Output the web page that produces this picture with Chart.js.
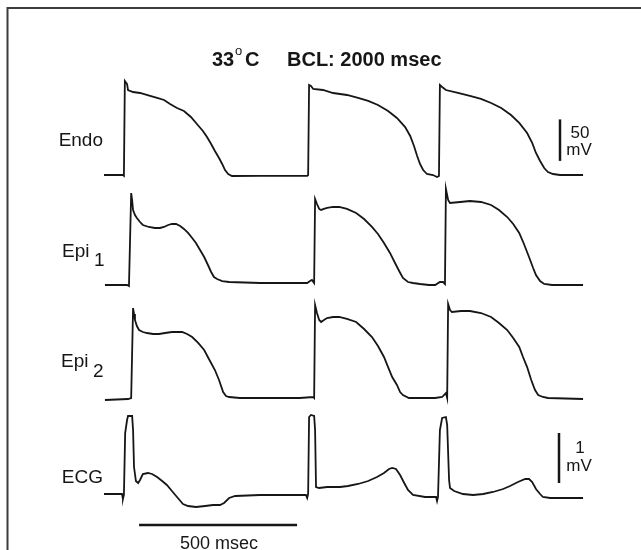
<!DOCTYPE html>
<html>
<head>
<meta charset="utf-8">
<script src="https://cdn.jsdelivr.net/npm/chart.js@4/dist/chart.umd.min.js"></script>
<style>
  html, body { margin: 0; padding: 0; background: #fff; }
  canvas { display: block; }
</style>
</head>
<body>
<canvas id="c" width="641" height="550"></canvas>
<script>
// traces as [time ms, value] pairs; AP traces in mV, ECG in mV
const endo = [[0,-85],[60,-85],[63,-86],[66,28.3],[73,24.6],[76,17.4],[92,15],[114,13.8],[146,10.2],[168,7.8],
  [190,5.4],[209,0.5],[231,-4.3],[253,-7.9],[275,-15.1],[294,-23.6],[313,-32],[326,-39.2],[339,-47.7],[351,-56.1],
  [364,-64.5],[374,-71.7],[383,-79],[393,-83.8],[405,-86.2],[494,-86],[589,-86],[643,-86],[646,-85],[649,23.4],
  [655,22.2],[662,18.6],[693,17.4],[725,13.8],[769,11.4],[804,7.8],[836,4.2],[867,-0.7],[899,-7.9],[927,-16.3],
  [953,-27.2],[969,-38],[981,-50.1],[991,-62.1],[1000,-71.7],[1010,-79],[1022,-83.8],[1041,-85],[1054,-87.4],[1060,-86.2],
  [1063,23.4],[1070,21],[1082,17.4],[1120,13.8],[1158,10.2],[1193,6.6],[1225,1.7],[1257,-4.3],[1288,-12.7],[1314,-22.3],
  [1339,-34.4],[1355,-46.4],[1367,-58.5],[1380,-68.1],[1393,-76.6],[1405,-81.4],[1421,-83.8],[1443,-85],[1516,-85]];

const epi1 = [[3,-85],[73,-85],[79,-86.2],[86,25.8],[89,17.4],[92,5.4],[98,-0.7],[104,-4.3],[114,-9.1],[123,-12.7],
  [142,-15.1],[161,-16.3],[177,-16.3],[190,-15.1],[203,-12.7],[215,-11.5],[228,-11.5],[241,-13.9],[253,-17.5],[266,-22.3],
  [279,-28.4],[291,-34.4],[304,-42.8],[317,-51.3],[329,-60.9],[339,-69.3],[348,-75.4],[358,-77.8],[374,-80.2],[396,-81.4],
  [494,-82.6],[589,-82.6],[643,-82.6],[652,-80.2],[658,-79],[665,-82.6],[668,18.6],[674,12.6],[681,6.6],[687,5.4],
  [696,6.6],[706,7.8],[725,9],[744,9],[769,6.6],[798,1.7],[823,-5.5],[848,-15.1],[867,-23.6],[886,-34.4],
  [905,-46.4],[921,-58.5],[934,-68.1],[946,-76.6],[962,-81.4],[978,-82.6],[1000,-83.8],[1029,-85],[1048,-85],[1063,-81.4],
  [1073,-81.4],[1079,-83.8],[1082,30.7],[1089,17.4],[1095,13.8],[1127,15],[1158,16.2],[1193,15],[1225,11.4],[1250,5.4],
  [1276,-3.1],[1295,-11.5],[1314,-22.3],[1329,-35.6],[1345,-51.3],[1358,-64.5],[1367,-73],[1380,-80.2],[1393,-83.8],[1418,-85],
  [1516,-85]];

const epi2 = [[3,-87.4],[76,-86.2],[86,-85],[92,23.4],[95,16.2],[98,9],[104,1.7],[111,-3.1],[123,-5.5],[136,-6.7],
  [155,-7.9],[174,-7.9],[193,-6.7],[215,-5.5],[231,-5.5],[247,-5.5],[263,-7.9],[279,-11.5],[298,-18.7],[317,-27.2],
  [332,-38],[351,-51.3],[364,-63.3],[377,-77.8],[386,-82.6],[396,-83.8],[430,-85],[620,-85],[662,-83.8],[665,-85],
  [668,27],[674,17.4],[681,9],[687,6.6],[696,9],[706,11.4],[725,12.6],[744,12.6],[769,10.2],[798,6.6],
  [823,-1.9],[848,-11.5],[867,-22.3],[886,-35.6],[899,-47.7],[912,-59.8],[927,-69.3],[937,-77.8],[946,-81.4],[965,-85],
  [1048,-85],[1070,-83.8],[1082,-79],[1086,-85],[1089,28.3],[1095,21],[1101,18.6],[1130,19.8],[1158,19.8],[1193,17.4],
  [1225,12.6],[1250,5.4],[1276,-3.1],[1295,-12.7],[1314,-23.6],[1326,-35.6],[1339,-47.7],[1352,-63.3],[1364,-75.4],[1374,-81.4],
  [1389,-83.8],[1405,-85],[1516,-86.2]];

const ecg = [[0,0],[57,0],[60,-0.1],[63,-0.02],[67,1.22],[73,1.48],[76,1.56],[89,1.56],[92,1.28],[95,0.54],
  [101,0.26],[108,0.22],[114,0.28],[123,0.4],[139,0.42],[152,0.4],[168,0.34],[184,0.26],[199,0.18],[215,0.06],
  [231,-0.06],[250,-0.2],[266,-0.24],[291,-0.26],[320,-0.24],[345,-0.22],[367,-0.22],[380,-0.18],[396,-0.08],[415,-0.04],
  [494,-0.02],[639,-0.02],[643,-0.08],[646,0],[649,1.54],[655,1.58],[665,1.56],[668,1.28],[671,0.14],[681,0.12],
  [706,0.14],[747,0.14],[772,0.16],[804,0.2],[836,0.26],[864,0.34],[886,0.42],[902,0.5],[912,0.52],[924,0.5],
  [937,0.38],[950,0.22],[962,0.08],[978,-0.02],[1016,-0.06],[1051,-0.06],[1054,-0.14],[1057,-0.06],[1063,1.28],[1070,1.52],
  [1082,1.54],[1086,1.38],[1092,0.28],[1095,0.12],[1108,0.06],[1136,0],[1168,-0.02],[1200,0],[1231,0.04],[1263,0.1],
  [1285,0.16],[1310,0.24],[1333,0.3],[1345,0.3],[1355,0.24],[1367,0.1],[1380,0],[1389,-0.06],[1412,-0.08],[1516,-0.08]];

const traceLabels = ['Endo', 'Epi', 'Epi', 'ECG'];
const subscripts = ['', '1', '2', ''];
const timeBar = 500;   // msec
const apBar = 50;      // mV
const ecgBar = 1;      // mV

const H = 550;
// place each trace: baseline pixel, baseline value, pixels per unit
function band(basePx, baseVal, pxPerUnit) {
  const max = baseVal + basePx / pxPerUnit;
  return { min: max - H / pxPerUnit, max: max };
}
const toPts = arr => arr.map(p => ({ x: p[0], y: p[1] }));

const ink = '#161616';
const font = '"Liberation Sans", Arial, Helvetica, sans-serif';

const overlay = {
  id: 'overlay',
  beforeDraw(chart) {
    const ctx = chart.ctx;
    ctx.save();
    ctx.fillStyle = '#fff';
    ctx.fillRect(0, 0, chart.width, chart.height);
    ctx.restore();
  },
  afterDraw(chart) {
    const { ctx, scales } = chart;
    ctx.save();
    // frame
    ctx.strokeStyle = '#3c3c3c';
    ctx.lineWidth = 2;
    ctx.beginPath();
    ctx.moveTo(7.5, 550); ctx.lineTo(7.5, 8); ctx.lineTo(641, 8);
    ctx.stroke();

    ctx.fillStyle = ink;
    ctx.textBaseline = 'alphabetic';
    // title
    ctx.font = 'bold 20px ' + font;
    ctx.fillText('33', 212, 66);
    ctx.fillText('C', 245, 66);
    ctx.fillText('BCL: 2000 msec', 287, 66);
    ctx.font = '13px ' + font;
    ctx.fillText('o', 235, 55);

    // trace labels
    ctx.font = '19px ' + font;
    ctx.textAlign = 'right';
    ctx.fillText(traceLabels[0], 103, 146);
    ctx.fillText(traceLabels[3], 103, 483);
    ctx.textAlign = 'left';
    ctx.fillText(traceLabels[1], 62, 257);
    ctx.fillText(subscripts[1], 94, 266);
    ctx.fillText(traceLabels[2], 61, 367);
    ctx.fillText(subscripts[2], 93, 377);

    // scale bars
    ctx.strokeStyle = ink;
    ctx.lineWidth = 2.5;
    const x = scales.x;
    ctx.beginPath();
    ctx.moveTo(x.getPixelForValue(111), 525);
    ctx.lineTo(x.getPixelForValue(111 + timeBar), 525);
    ctx.stroke();
    const ye = scales.yEndo;
    ctx.beginPath();
    ctx.moveTo(560, ye.getPixelForValue(-68));
    ctx.lineTo(560, ye.getPixelForValue(-68 + apBar));
    ctx.stroke();
    const yc = scales.yEcg;
    ctx.beginPath();
    ctx.moveTo(559, yc.getPixelForValue(0.22));
    ctx.lineTo(559, yc.getPixelForValue(0.22 + ecgBar));
    ctx.stroke();

    ctx.font = '17px ' + font;
    ctx.textAlign = 'center';
    ctx.fillText(String(apBar), 580, 138);
    ctx.fillText('mV', 579, 155);
    ctx.fillText(String(ecgBar), 580, 453);
    ctx.fillText('mV', 579, 471);
    ctx.font = '18px ' + font;
    ctx.fillText(timeBar + ' msec', 219, 549);
    ctx.restore();
  }
};

const line = (data, yAxisID) => ({
  data: toPts(data),
  yAxisID,
  showLine: true,
  borderColor: ink,
  borderWidth: 1.8,
  pointRadius: 0,
  tension: 0,
  fill: false
});

const pxPerMs = 158 / 500;
new Chart(document.getElementById('c'), {
  type: 'scatter',
  data: {
    datasets: [
      line(endo, 'yEndo'),
      line(epi1, 'yEpi1'),
      line(epi2, 'yEpi2'),
      line(ecg, 'yEcg')
    ]
  },
  options: {
    responsive: false,
    devicePixelRatio: 1,
    animation: false,
    layout: { padding: 0 },
    plugins: { legend: { display: false }, tooltip: { enabled: false } },
    scales: {
      x: { type: 'linear', display: false, min: -104 / pxPerMs, max: (641 - 104) / pxPerMs },
      yEndo: { type: 'linear', display: false, ...band(175, -85, 0.83) },
      yEpi1: { type: 'linear', display: false, ...band(285, -85, 0.83) },
      yEpi2: { type: 'linear', display: false, ...band(398, -85, 0.83) },
      yEcg: { type: 'linear', display: false, ...band(494, 0, 50) }
    }
  },
  plugins: [overlay]
});
</script>
</body>
</html>
